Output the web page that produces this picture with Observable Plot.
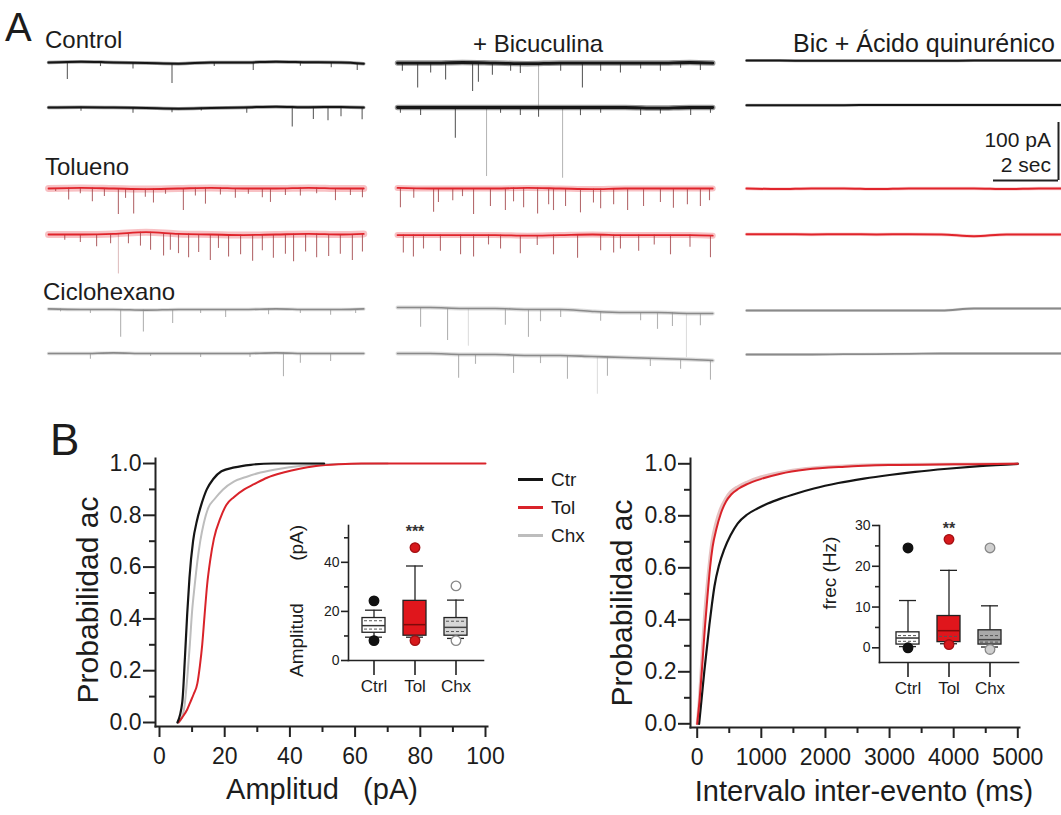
<!DOCTYPE html>
<html lang="es">
<head>
<meta charset="utf-8">
<title>Figura</title>
<script src="https://cdn.jsdelivr.net/npm/d3@7"></script>
<script src="https://cdn.jsdelivr.net/npm/@observablehq/plot@0.6"></script>
<style>
  html,body{margin:0;padding:0;background:#fff;}
  #fig{position:relative;width:1061px;height:815px;overflow:hidden;background:#fff;font-family:"Liberation Sans",Arial,Helvetica,sans-serif;color:#1c1c1c;}
  #fig svg{position:absolute;left:0;top:0;}
  .t{position:absolute;white-space:pre;line-height:1;}
  .sw{position:absolute;height:3px;}
</style>
</head>
<body>
<div id="fig"></div>
<script>
// ======================= DATA =======================
// ---- Panel A: recordings (time in s, current in pA) ----
const conditions = ["Control", "Tolueno", "Ciclohexano"];
const treatments = ["Control", "+ Bicuculina", "Bic + Ácido quinurénico"];
const scaleBarPA = 100;
const scaleBarSec = 2;
// sample times of the slow baseline of every trace
const tBase = [0, 1, 2, 3, 4, 5, 6, 7, 8, 9, 9.7];
// baseline level (pA) at tBase, per trace  (c = control column, b = bicuculina, k = quinurénico)
const bl_c_ctrl1 = [0, 1.5, 0, -1, -2, 0, 0, 1.5, 0.5, 0, -2];
const bl_c_ctrl2 = [0, 0.5, 0, -1, -2, -1, 0, 1.5, 0.5, 1, 0];
const bl_c_tol1  = [0, 1, 0, -1, 0, 1, 0, 0, 1, 0, 0];
const bl_c_tol2  = [0, 0, 1, 4, 1, 0, -1, 0, 1, 0, 1];
const bl_c_chx1  = [1, 0, 0, -1, 0, 0, 0, 1, 0, 0, 1];
const bl_c_chx2  = [0, 0, 1, 0, 0, 0, 0, 1, 0, 0, 0];
const bl_b_ctrl1 = [-1, -1, 0, -1, -2, -1, -1, -1, -1, 0, -1];
const bl_b_ctrl2 = [0, 0, 0, 0, 0, 0, 0, 0, -1, 0, 0];
const bl_b_tol1  = [1, 0, 0, 0, 1, 0, -1, 0, 0, 0, 0];
const bl_b_tol2  = [-1, -1, -1, -1, -2, -1, 0, -1, -1, -1, -2];
const bl_b_chx1  = [3.4, 3.4, 1.7, 1.7, 0, 0, -3.4, -5.2, -5.2, -6.9, -6.9];
const bl_b_chx2  = [0, 0, -1.7, -1.7, -3.4, -3.4, -5.2, -6.9, -8.6, -10.3, -12];
const bl_k_ctrl1 = [3.4, 3.4, 3, 3, 3, 3, 3, 3.4, 3.4, 3.4, 3.4];
const bl_k_ctrl2 = [4, 4, 4, 4, 4.3, 4.3, 4.3, 4.3, 4.3, 4.3, 4.3];
const bl_k_tol1  = [0, -1, 0, 0, -1, 0, 0, 0, -1, 0, 0];
const bl_k_tol2  = [0.5, 0.5, 0, 0.5, 0, 0.5, 0, -3, 0, 0, 0];
const bl_k_chx1  = [-1.7, -1.7, -1.7, -1.7, -1.7, -1.7, -1.7, 1.7, 1.7, 1.7, 1.7];
const bl_k_chx2  = [-1.7, -1.7, -1.7, -1.2, -1, -0.5, 0, 0, 0, 0, 0];
// synaptic events: [time s, amplitude pA]
const ev_c_ctrl1 = [[0.58,31],[1.6,7],[2.6,10],[3.8,34],[5.1,7],[6.3,14],[7.75,7],[8.7,9],[9.5,12]];
const ev_c_ctrl2 = [[1.0,7],[2.6,9],[3.8,7],[4.7,5],[6.1,10],[7.5,34],[8.15,21],[8.6,24],[9.0,17],[9.65,21]];
const ev_c_tol1  = [[0.22,5],[0.62,21],[0.98,10],[1.35,24],[1.72,14],[2.15,45],[2.37,17],[2.62,43],[2.98,14],[3.23,24],[3.6,10],[4.15,38],[4.52,14],[4.83,28],[5.29,12],[5.75,17],[6.15,10],[6.58,16],[6.83,24],[7.29,12],[7.75,14],[8.25,10],[8.83,21],[9.29,12],[9.66,16]];
const ev_c_tol2  = [[0.5,10],[0.98,14],[1.48,21],[1.91,17],[2.15,69],[2.46,17],[2.83,24],[3.14,31],[3.54,38],[3.75,28],[4.0,34],[4.31,41],[4.62,31],[4.98,45],[5.23,24],[5.54,38],[5.91,34],[6.28,45],[6.58,28],[6.92,41],[7.29,34],[7.54,48],[7.91,31],[8.25,41],[8.62,38],[8.98,34],[9.35,45],[9.66,31]];
const ev_c_chx1  = [[0.37,5],[1.29,7],[2.22,48],[2.92,38],[3.82,24],[4.68,7],[5.45,14],[6.77,10],[7.75,7],[8.68,10],[9.45,7]];
const ev_c_chx2  = [[1.29,10],[3.14,5],[4.68,7],[6.2,7],[7.23,41],[7.75,17],[8.68,14]];
const ev_b_ctrl1 = [[0.15,14],[0.62,43],[1.02,17],[1.48,29],[2.31,50],[2.49,34],[2.92,21],[3.48,14],[3.78,17],[4.34,76],[5.02,14],[5.69,43],[6.25,14],[6.86,17],[7.48,10],[8.09,14],[8.71,10],[9.32,14]];
const ev_b_ctrl2 = [[0.09,10],[0.71,14],[1.78,53],[2.74,119],[3.17,10],[3.78,14],[4.34,17],[5.08,122],[5.63,14],[6.25,10],[7.48,14],[8.09,10],[9.02,14],[9.63,10]];
const ev_b_tol1  = [[0.09,34],[0.5,17],[1.11,41],[1.26,24],[1.7,21],[2.0,14],[2.34,45],[2.86,31],[3.32,38],[3.57,24],[3.88,34],[4.31,45],[4.65,28],[4.8,38],[5.17,31],[5.63,41],[6.03,24],[6.25,34],[6.65,28],[7.08,38],[7.57,31],[8.09,24],[8.49,34],[8.92,28],[9.32,31],[9.6,21]];
const ev_b_tol2  = [[0.18,31],[0.49,38],[0.8,24],[1.32,28],[1.94,34],[2.34,38],[2.8,17],[3.17,24],[3.78,31],[4.3,17],[4.8,34],[5.54,41],[6.25,28],[6.65,31],[6.86,24],[7.42,28],[7.9,17],[8.4,34],[9.0,21],[9.63,38]];
const ev_b_chx1  = [[0.71,34],[1.54,55],[2.18,65],[3.32,29],[4.03,48],[4.4,21],[5.02,14],[6.25,17],[7.48,14],[8.0,29],[8.46,24],[8.89,76],[9.32,21]];
const ev_b_chx2  = [[1.88,41],[2.4,17],[3.57,31],[4.4,14],[5.23,41],[6.15,65],[6.46,34],[7.78,14],[8.71,17],[9.63,34]];

// ---- Panel B: cumulative probability curves ----
const seriesNames = ["Ctr", "Tol", "Chx"];
// amplitude (pA) vs cumulative probability
const ampCtr = [[5.5,0],[7,0.08],[7.8,0.25],[8.5,0.42],[9.2,0.56],[10.3,0.7],[11.5,0.78],[12.8,0.84],[14.5,0.9],[16.5,0.94],[19,0.97],[23,0.985],[28,0.995],[35,1],[50.5,1]];
const ampTol = [[5.8,0],[7,0.02],[8.5,0.05],[9.5,0.08],[10.5,0.11],[11.6,0.15],[12.4,0.22],[13.1,0.3],[13.8,0.41],[14.6,0.53],[15.6,0.63],[16.7,0.71],[18.7,0.79],[20.5,0.84],[22.8,0.87],[26,0.9],[29,0.92],[33,0.945],[38,0.965],[43,0.98],[48,0.99],[55,0.997],[62,1],[100,1]];
const ampChx = [[6,0],[7.5,0.05],[8.5,0.17],[9.3,0.3],[10,0.43],[10.8,0.53],[11.6,0.62],[12.5,0.7],[13.6,0.77],[15,0.83],[16.7,0.86],[19.5,0.9],[22.8,0.93],[27,0.95],[31,0.965],[37,0.98],[43,0.99],[55,0.998],[70,1]];
// inter-event interval (ms) vs cumulative probability
const intCtr = [[30,0],[70,0.1],[110,0.2],[150,0.29],[190,0.38],[230,0.46],[270,0.53],[340,0.61],[420,0.67],[520,0.725],[630,0.77],[780,0.805],[940,0.828],[1100,0.847],[1300,0.866],[1550,0.886],[1820,0.905],[2200,0.926],[2600,0.943],[3000,0.957],[3400,0.969],[3900,0.981],[4400,0.991],[5000,1]];
const intTol = [[0,0],[40,0.1],[80,0.23],[120,0.37],[160,0.49],[200,0.6],[240,0.68],[300,0.75],[370,0.81],[450,0.855],[530,0.882],[650,0.905],[780,0.922],[1000,0.942],[1300,0.962],[1700,0.978],[2300,0.989],[3000,0.995],[4000,0.998],[5000,1]];
const intChx = [[0,0],[35,0.1],[70,0.24],[110,0.4],[150,0.52],[190,0.62],[230,0.7],[290,0.77],[360,0.825],[440,0.865],[520,0.892],[640,0.913],[780,0.93],[1000,0.95],[1300,0.967],[1700,0.982],[2300,0.992],[3000,0.997],[5000,1]];
// axis ticks
const probTicks = [0, 0.2, 0.4, 0.6, 0.8, 1.0];
const probMinor = [0.1, 0.3, 0.5, 0.7, 0.9];
const ampTicks = [0, 20, 40, 60, 80, 100];
const ampMinor = [10, 30, 50, 70, 90];
const intTicks = [0, 1000, 2000, 3000, 4000, 5000];
const intMinor = [500, 1500, 2500, 3500, 4500];

// ---- Insets: box plots ----
const categories = ["Ctrl", "Tol", "Chx"];
// amplitude (pA)
const ampQ1 = [11.3, 10.1, 10.1];
const ampMedian = [14.2, 14.6, 13.5];
const ampQ3 = [17.3, 24.3, 17.3];
const ampWhiskLo = [9.5, 9.5, 9.0];
const ampWhiskHi = [20.5, 38.5, 24.6];
const ampOutHi = [24.3, 46, 30.4];
const ampOutLo = [8.1, 8.1, 8.1];
const ampDashes = [[12.8, 16.2], [], [11.8, 16.0]];
const ampStars = ["", "***", ""];
const ampInsetTicks = [0, 20, 40];
const ampInsetMinor = [10, 30, 50];
// frequency (Hz)
const frQ1 = [0.8, 1.4, 0.8];
const frMedian = [2.4, 4.2, 2.0];
const frQ3 = [3.8, 7.8, 4.3];
const frWhiskLo = [0.3, 1.0, 0.2];
const frWhiskHi = [11.6, 19, 10.3];
const frOutHi = [24.5, 26.6, 24.5];
const frOutLo = [0.0, 0.8, -0.4];
const frDashes = [[1.6, 3.0], [2.8], [1.4, 3.0]];
const frStars = ["", "**", ""];
const frInsetTicks = [0, 10, 20, 30];
const frInsetMinor = [5, 15, 25];

// ======================= STYLE / LAYOUT =======================
const W = 1061, H = 815;
const FONT = '"Liberation Sans", Arial, Helvetica, sans-serif';
const AX = "#222";
const C_CTR = "#151515", C_TOL = "#d9232a", C_CHX = "#bdbdbd";
const fig = document.getElementById("fig");
const baseStyle = (fs) => ({background: "transparent", fontFamily: FONT, fontSize: fs + "px", color: "#1c1c1c", overflow: "visible"});

function label(text, x, baseline, size, anchor) {
  const d = document.createElement("div");
  d.className = "t"; d.textContent = text;
  d.style.fontSize = size + "px";
  d.style.top = (baseline - 0.8465 * size) + "px";
  if (anchor === "end") d.style.right = (W - x) + "px";
  else if (anchor === "middle") { d.style.left = x + "px"; d.style.transform = "translateX(-50%)"; }
  else d.style.left = x + "px";
  fig.appendChild(d);
  return d;
}
function vlabel(text, cx, cy, size) {
  const d = document.createElement("div");
  d.className = "t"; d.textContent = text;
  d.style.fontSize = size + "px";
  d.style.left = cx + "px"; d.style.top = cy + "px";
  d.style.transform = "translate(-50%,-50%) rotate(-90deg)";
  fig.appendChild(d);
  return d;
}

// ======================= PANEL A =======================
{
  const PX_PER_S = 32.5, PX_PER_PA = 0.58;
  const colStartPx = [48, 397, 746];
  const rowPx = [62, 107, 188, 234, 309, 353];
  const colOff = colStartPx.map(p => (p - colStartPx[0]) / PX_PER_S);
  const rowBase = rowPx.map(p => -p / PX_PER_PA);
  const traces = [
    [0,0,bl_c_ctrl1,ev_c_ctrl1],[0,1,bl_c_ctrl2,ev_c_ctrl2],[0,2,bl_c_tol1,ev_c_tol1],[0,3,bl_c_tol2,ev_c_tol2],[0,4,bl_c_chx1,ev_c_chx1],[0,5,bl_c_chx2,ev_c_chx2],
    [1,0,bl_b_ctrl1,ev_b_ctrl1],[1,1,bl_b_ctrl2,ev_b_ctrl2],[1,2,bl_b_tol1,ev_b_tol1],[1,3,bl_b_tol2,ev_b_tol2],[1,4,bl_b_chx1,ev_b_chx1],[1,5,bl_b_chx2,ev_b_chx2],
    [2,0,bl_k_ctrl1,[]],[2,1,bl_k_ctrl2,[]],[2,2,bl_k_tol1,[]],[2,3,bl_k_tol2,[]],[2,4,bl_k_chx1,[]],[2,5,bl_k_chx2,[]]
  ];
  const core = ["#161616", "#e0242b", "#8a8a8a"];
  const halo = ["#555555", "#f3989c", "#c4c4c4"];
  const evColor = ["#2a2a2a", "#9c3a3e", "#999999"];
  const coreW = [[2, 2.8, 2], [1.8, 1.8, 2], [1.6, 1.6, 1.8]]; // [cond][col]
  const haloW = [[3.5, 5.5, 3], [7, 6, 3.5], [3.5, 4, 3]];
  const marks = [];
  for (const [col, row, bl, ev] of traces) {
    const cond = Math.floor(row / 2);
    const base = rowBase[row];
    const pts = tBase.map((t, i) => ({x: colOff[col] + t, y: base + bl[i]}));
    marks.push(Plot.line(pts, {x: "x", y: "y", stroke: halo[cond], strokeWidth: haloW[cond][col], strokeOpacity: col === 2 ? 0.45 : 0.6, curve: "monotone-x"}));
    const evs = ev.map(([t, a]) => {
      const b = base + bl[Math.min(Math.round(t), bl.length - 1)];
      return {x: colOff[col] + t, y1: b, y2: b - a, big: a > 60};
    });
    marks.push(Plot.ruleX(evs.filter(d => !d.big), {x: "x", y1: "y1", y2: "y2", stroke: evColor[cond], strokeWidth: 1.1, strokeOpacity: 0.75}));
    marks.push(Plot.ruleX(evs.filter(d => d.big), {x: "x", y1: "y1", y2: "y2", stroke: evColor[cond], strokeWidth: 0.9, strokeOpacity: 0.4}));
    marks.push(Plot.line(pts, {x: "x", y: "y", stroke: core[cond], strokeWidth: coreW[cond][col], curve: "monotone-x"}));
  }
  // scale bar (anchored at its corner)
  const sbX = (1058 - colStartPx[0]) / PX_PER_S, sbY = -180 / PX_PER_PA;
  marks.push(Plot.ruleX([{x: sbX, y1: sbY, y2: sbY + scaleBarPA}], {x: "x", y1: "y1", y2: "y2", stroke: AX, strokeWidth: 2}));
  marks.push(Plot.ruleY([{y: sbY, x1: sbX - scaleBarSec, x2: sbX}], {y: "y", x1: "x1", x2: "x2", stroke: AX, strokeWidth: 2}));

  const plotA = Plot.plot({
    width: W, height: H, margin: 0,
    style: baseStyle(14),
    x: {domain: [0, 32.2], range: [colStartPx[0], colStartPx[0] + 32.2 * PX_PER_S], axis: null},
    y: {domain: [0, -H / PX_PER_PA], range: [0, H], axis: null},
    marks
  });
  fig.appendChild(plotA);

  label("A", 5, 41, 40);
  label(treatments[0], 45, 48, 24);
  label(treatments[1], 473, 52, 24);
  label(treatments[2], 1055, 52, 25, "end");
  label(conditions[1], 45, 175, 24);
  label(conditions[2], 43, 300, 24);
  label(scaleBarPA + " pA", 1051, 147, 21, "end");
  label(scaleBarSec + " sec", 1051, 172, 21, "end");
}

// ======================= PANEL B : main plots =======================
function mainPlot({frame, xRange, yRange, xDomain, xTicks, xMinor, curves}) {
  const [fl, ft, fr, fb] = frame;
  return Plot.plot({
    width: W, height: H,
    marginLeft: fl, marginTop: ft, marginRight: W - fr, marginBottom: H - fb,
    style: baseStyle(23),
    x: {domain: xDomain, range: xRange},
    y: {domain: [0, 1], range: yRange},
    marks: [
      Plot.frame({anchor: "left", stroke: AX, strokeWidth: 2}),
      Plot.frame({anchor: "bottom", stroke: AX, strokeWidth: 2}),
      Plot.axisY(probTicks, {tickSize: 12, tickPadding: 2, tickFormat: d3.format(".1f"), label: null, stroke: AX, strokeWidth: 2}),
      Plot.axisY(probMinor, {tickSize: 6, tickFormat: () => "", label: null, stroke: AX, strokeWidth: 2}),
      Plot.axisX(xTicks, {tickSize: 11, tickPadding: 10, tickFormat: d => String(d), label: null, stroke: AX, strokeWidth: 2}),
      Plot.axisX(xMinor, {tickSize: 6, tickFormat: () => "", label: null, stroke: AX, strokeWidth: 2}),
      ...curves.map(c => Plot.line(c.pts, {x: d => d[0], y: d => d[1], stroke: c.color, strokeWidth: c.w, curve: "monotone-x"}))
    ]
  });
}
fig.appendChild(mainPlot({
  frame: [155, 458, 487, 726], xRange: [159, 485], yRange: [722, 463], xDomain: [0, 100],
  xTicks: ampTicks, xMinor: ampMinor,
  curves: [{pts: ampChx, color: C_CHX, w: 2}, {pts: ampTol, color: C_TOL, w: 2}, {pts: ampCtr, color: C_CTR, w: 2.2}]
}));
fig.appendChild(mainPlot({
  frame: [690, 458, 1019, 727], xRange: [696.7, 1017.3], yRange: [723.3, 463.3], xDomain: [0, 5000],
  xTicks: intTicks, xMinor: intMinor,
  curves: [{pts: intChx, color: "#e6c2c2", w: 3}, {pts: intCtr, color: C_CTR, w: 2.2}, {pts: intTol, color: C_TOL, w: 2}]
}));

label("B", 50, 455, 44);
vlabel("Probabilidad ac", 88, 600, 30);
label("Amplitud   (pA)", 322, 800, 29, "middle");
vlabel("Probabilidad ac", 622, 603, 30);
label("Intervalo inter-evento (ms)", 864, 802, 29, "middle");

// legend
{
  const legendColors = [C_CTR, C_TOL, C_CHX];
  const legendY = [479, 507, 535];
  seriesNames.forEach((n, i) => {
    const s = document.createElement("div");
    s.className = "sw";
    s.style.left = "518px"; s.style.width = "25px";
    s.style.top = (legendY[i] - 1.5) + "px";
    s.style.background = legendColors[i];
    fig.appendChild(s);
    label(n, 551, legendY[i] + 7, 19);
  });
}

// ======================= INSETS =======================
function insetPlot({frame, xRange, yDomain, q1, med, q3, wlo, whi, outHi, outLo, dashes, stars, ticks, minor, fills, outFill, outStroke, medColor, starDy}) {
  const [fl, ft, fr, fb] = frame;
  const boxes = categories.map((g, i) => ({g, q1: q1[i], med: med[i], q3: q3[i], wlo: wlo[i], whi: whi[i], fill: fills[i], medColor: medColor[i]}));
  const outliers = categories.flatMap((g, i) => [
    {g, v: outHi[i], fill: outFill[i], stroke: outStroke[i]},
    {g, v: outLo[i], fill: outFill[i], stroke: outStroke[i]}
  ]);
  const dashLines = categories.flatMap((g, i) => dashes[i].map(v => ({g, v})));
  const starData = categories.map((g, i) => ({g, v: outHi[i], s: stars[i]})).filter(d => d.s);
  return Plot.plot({
    width: W, height: H,
    marginLeft: fl, marginTop: ft, marginRight: W - fr, marginBottom: H - fb,
    style: baseStyle(14),
    color: {type: "identity"},
    x: {type: "band", domain: categories, range: xRange, padding: 0},
    y: {domain: yDomain},
    marks: [
      Plot.frame({anchor: "left", stroke: AX, strokeWidth: 1.6}),
      Plot.frame({anchor: "bottom", stroke: AX, strokeWidth: 1.6}),
      Plot.axisY(ticks, {tickSize: 7, tickPadding: 2, label: null, stroke: AX, strokeWidth: 1.6}),
      Plot.axisY(minor, {tickSize: 4, tickFormat: () => "", label: null, stroke: AX, strokeWidth: 1.6}),
      Plot.axisX({tickSize: 15, tickPadding: 4, fontSize: 17, label: null, stroke: AX, strokeWidth: 1.6}),
      Plot.ruleX(boxes, {x: "g", y1: "wlo", y2: "whi", stroke: AX, strokeWidth: 1.3}),
      Plot.tickY(boxes, {x: "g", y: "whi", stroke: AX, strokeWidth: 1.3, insetLeft: 12, insetRight: 12}),
      Plot.tickY(boxes, {x: "g", y: "wlo", stroke: AX, strokeWidth: 1.3, insetLeft: 12, insetRight: 12}),
      Plot.barY(boxes, {x: "g", y1: "q1", y2: "q3", fill: "fill", stroke: AX, strokeWidth: 1.3, insetLeft: 9, insetRight: 9}),
      Plot.tickY(dashLines, {x: "g", y: "v", stroke: "#555", strokeWidth: 1, strokeDasharray: "3,2", insetLeft: 11, insetRight: 11}),
      Plot.tickY(boxes, {x: "g", y: "med", stroke: "medColor", strokeWidth: 1.5, insetLeft: 9, insetRight: 9}),
      Plot.dot(outliers, {x: "g", y: "v", r: 4.8, fill: "fill", stroke: "stroke", strokeWidth: 1.3}),
      Plot.text(starData, {x: "g", y: "v", text: "s", dy: starDy, fontSize: 16, fontWeight: "bold", fill: "#333"})
    ]
  });
}
fig.appendChild(insetPlot({
  frame: [348, 525, 483, 660], xRange: [352.25, 476.75], yDomain: [0, 55],
  q1: ampQ1, med: ampMedian, q3: ampQ3, wlo: ampWhiskLo, whi: ampWhiskHi, outHi: ampOutHi, outLo: ampOutLo,
  dashes: ampDashes, stars: ampStars, ticks: ampInsetTicks, minor: ampInsetMinor,
  fills: ["#ffffff", "#e0161c", "#d6d6d6"], outFill: ["#111", "#d7191c", "#ffffff"], outStroke: ["#111", "#a30f12", "#888"],
  medColor: ["#333", "#7d0a0a", "#444"], starDy: -16
}));
fig.appendChild(insetPlot({
  frame: [879, 525, 1018, 662], xRange: [886.25, 1010.75], yDomain: [-3.6, 30],
  q1: frQ1, med: frMedian, q3: frQ3, wlo: frWhiskLo, whi: frWhiskHi, outHi: frOutHi, outLo: frOutLo,
  dashes: frDashes, stars: frStars, ticks: frInsetTicks, minor: frInsetMinor,
  fills: ["#ffffff", "#e0161c", "#a9a9a9"], outFill: ["#111", "#d7191c", "#cfcfcf"], outStroke: ["#111", "#a30f12", "#888"],
  medColor: ["#333", "#7d0a0a", "#444"], starDy: -10
}));
vlabel("Amplitud        (pA)", 296, 601, 19);
vlabel("frec (Hz)", 829, 573, 19);
</script>
</body>
</html>
